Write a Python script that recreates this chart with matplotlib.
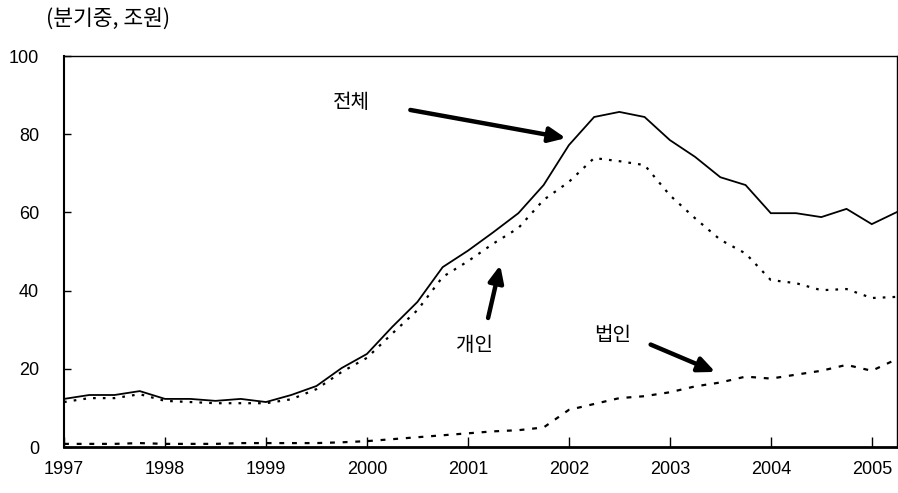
import matplotlib
matplotlib.use("Agg")
import matplotlib.pyplot as plt
import numpy as np

plt.rcParams['font.family'] = ['Liberation Sans', 'Noto Sans CJK KR', 'DejaVu Sans']

# quarterly, 1997Q1 .. 2005Q2
start_year = 1997
total = [12.3, 13.3, 13.3, 14.3, 12.3, 12.3, 11.8, 12.3, 11.5, 13.3, 15.6, 20.2,
         23.8, 30.7, 37.1, 46.0, 50.2, 54.9, 59.8, 67.0, 77.2, 84.4, 85.7, 84.4,
         78.5, 74.2, 69.0, 67.0, 59.8, 59.8, 58.8, 60.9, 57.0, 60.1]
individual = [11.5, 12.5, 12.5, 13.5, 11.8, 11.5, 11.2, 11.2, 11.2, 12.2, 14.8, 19.2,
              22.8, 29.0, 35.0, 43.5, 47.5, 52.0, 56.0, 63.2, 67.8, 73.9, 73.1, 72.1,
              64.4, 58.5, 53.0, 49.5, 42.7, 41.9, 40.1, 40.4, 38.1, 38.4]
corporate = [0.8, 0.8, 0.8, 1.0, 0.8, 0.8, 0.8, 1.0, 1.0, 1.0, 1.0, 1.2,
             1.5, 2.0, 2.5, 3.0, 3.5, 4.0, 4.3, 5.0, 9.5, 11.0, 12.5, 13.0,
             14.0, 15.5, 16.5, 18.0, 17.5, 18.5, 19.5, 21.0, 19.5, 22.5]
year_ticks = [1997, 1998, 1999, 2000, 2001, 2002, 2003, 2004, 2005]
y_ticks = [0, 20, 40, 60, 80, 100]

x = start_year + np.arange(len(total)) * 0.25

fig = plt.figure(figsize=(8.98, 4.93), dpi=100)
ax = fig.add_axes([0.0713, 0.0933, 0.9276, 0.7931])

ax.plot(x, total, color='black', lw=1.3, solid_joinstyle='miter')
ax.plot(x, individual, color='black', lw=1.6, dashes=(1.2, 3.2))
ax.plot(x, corporate, color='black', lw=1.6, dashes=(2.2, 3.5))

ax.set_xlim(1997, 2005.25)
ax.set_ylim(0, 100)
ax.set_xticks(year_ticks)
ax.set_xticklabels([str(y) for y in year_ticks])
ax.set_yticks(y_ticks)
ax.tick_params(axis='y', direction='in', length=5, width=1, pad=18, labelsize=13)
ax.tick_params(axis='x', direction='in', length=7, width=1, pad=10, labelsize=13)
ax.spines['left'].set_linewidth(1.5)
ax.spines['bottom'].set_linewidth(2)
ax.spines['top'].set_linewidth(1)
ax.spines['right'].set_linewidth(1)

kfont = ['Noto Sans CJK KR', 'DejaVu Sans']
aprops = dict(arrowstyle='-|>,head_width=0.45,head_length=1.0', lw=3.2,
              color='black', shrinkA=0, shrinkB=0)

ax.annotate('', xy=(2001.97, 79.0), xytext=(2000.43, 86.2), arrowprops=aprops)
ax.text(1999.85, 88, '전체', ha='center', va='center', fontsize=14.5, family=kfont)

ax.annotate('', xy=(2001.32, 46.5), xytext=(2001.2, 33), arrowprops=aprops)
ax.text(2001.07, 26, '개인', ha='center', va='center', fontsize=14.5, family=kfont)

ax.annotate('', xy=(2003.45, 19.2), xytext=(2002.81, 26.2), arrowprops=aprops)
ax.text(2002.43, 28.6, '법인', ha='center', va='center', fontsize=14.5, family=kfont)

fig.text(108/898, 1 - 20/493, '(분기중, 조원)', ha='center', va='center',
         fontsize=15.5, family=kfont)

fig.savefig('out.png', dpi=100)
